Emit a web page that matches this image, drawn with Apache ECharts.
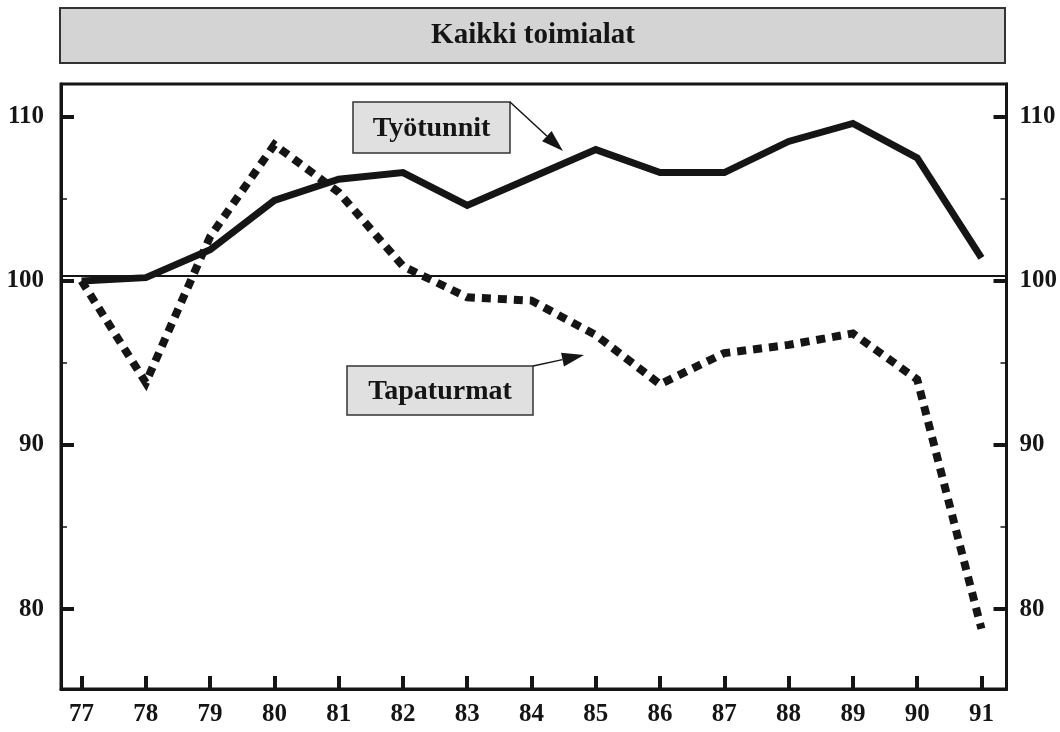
<!DOCTYPE html>
<html>
<head>
<meta charset="utf-8">
<script src="https://cdn.jsdelivr.net/npm/echarts@6/dist/echarts.min.js"></script>
<style>
html,body{margin:0;padding:0;background:#fff;}
#chart{width:1060px;height:732px;}
</style>
</head>
<body>
<div id="chart"></div>
<script>
// ---- data ----
var years = [77, 78, 79, 80, 81, 82, 83, 84, 85, 86, 87, 88, 89, 90, 91];
var tyotunnit = [100.0, 100.2, 101.9, 104.9, 106.2, 106.6, 104.6, 106.3, 108.0, 106.6, 106.6, 108.5, 109.6, 107.5, 101.4];
var tapaturmat = [100.0, 93.8, 102.7, 108.3, 105.4, 100.9, 99.0, 98.8, 96.7, 93.7, 95.6, 96.1, 96.8, 94.0, 78.8];
var yMajorTicks = [80, 90, 100, 110];
var yMinorTicks = [85, 95, 105];
var referenceLevel = 100.3;
var titleText = 'Kaikki toimialat';
var seriesNames = ['Työtunnit', 'Tapaturmat'];

// ---- styling ----
var INK = '#151515';
var FONT = '"Liberation Serif", "DejaVu Serif", serif';
var X_MIN = 76.68, X_MAX = 91.39, Y_MIN = 75.13, Y_MAX = 112.0;

function pairs(vals) {
  return years.map(function (y, i) { return [y, vals[i]]; });
}

function arrow(x1, y1, x2, y2, headLen, headHalf) {
  var dx = x2 - x1, dy = y2 - y1, L = Math.sqrt(dx * dx + dy * dy);
  var ux = dx / L, uy = dy / L, px = -uy, py = ux;
  var bx = x2 - ux * headLen, by = y2 - uy * headLen;
  return [
    { type: 'line', shape: { x1: x1, y1: y1, x2: bx, y2: by }, style: { stroke: INK, lineWidth: 1.5 }, z: 10 },
    { type: 'polygon', shape: { points: [[x2, y2], [bx + px * headHalf, by + py * headHalf], [bx - px * headHalf, by - py * headHalf]] }, style: { fill: INK }, z: 10 }
  ];
}

function labelBox(x, y, w, h, text) {
  return [
    { type: 'rect', shape: { x: x, y: y, width: w, height: h }, style: { fill: '#e0e0e0', stroke: '#333', lineWidth: 1.5 }, z: 10 },
    { type: 'text', x: x + w / 2, y: y + h / 2 + 1, style: { text: text, fill: INK, font: 'bold 28px ' + FONT, align: 'center', verticalAlign: 'middle' }, z: 11 }
  ];
}

var graphics = []
  .concat([
    { type: 'rect', shape: { x: 60, y: 8, width: 945, height: 55 }, style: { fill: '#d4d4d4', stroke: '#333', lineWidth: 2 }, z: 10 },
    { type: 'text', x: 533, y: 36, style: { text: titleText, fill: INK, font: 'bold 29px ' + FONT, align: 'center', verticalAlign: 'middle' }, z: 11 }
  ])
  .concat(labelBox(353, 102, 157, 51, seriesNames[0]))
  .concat(arrow(510, 102, 563, 151, 22, 7))
  .concat(labelBox(347, 366, 186, 49, seriesNames[1]))
  .concat(arrow(533, 366, 584, 355, 22, 7));

var yLabelStyle = { fontFamily: FONT, fontWeight: 'bold', fontSize: 25, color: INK };

var option = {
  animation: false,
  backgroundColor: '#fff',
  grid: { left: 61, right: 53, top: 84, bottom: 43, show: true, borderColor: INK, borderWidth: 3, backgroundColor: 'transparent' },
  xAxis: {
    type: 'value', min: X_MIN, max: X_MAX,
    axisLine: { show: true, lineStyle: { color: INK, width: 3 } },
    axisTick: { show: true, inside: true, length: 13, customValues: years, lineStyle: { color: INK, width: 4 } },
    axisLabel: { show: true, customValues: years, margin: 13, fontFamily: FONT, fontWeight: 'bold', fontSize: 25, color: INK,
      formatter: function (v) { return String(v); } },
    splitLine: { show: false }
  },
  yAxis: [
    { type: 'value', position: 'left', min: Y_MIN, max: Y_MAX,
      axisLine: { show: true, lineStyle: { color: INK, width: 3 } },
      axisTick: { show: true, inside: true, length: 13, customValues: yMajorTicks, lineStyle: { color: INK, width: 4 } },
      axisLabel: Object.assign({ show: true, customValues: yMajorTicks, margin: 17 }, yLabelStyle),
      splitLine: { show: false } },
    { type: 'value', position: 'right', min: Y_MIN, max: Y_MAX,
      axisLine: { show: true, lineStyle: { color: INK, width: 3 } },
      axisTick: { show: true, inside: true, length: 13, customValues: yMajorTicks, lineStyle: { color: INK, width: 4 } },
      axisLabel: Object.assign({ show: true, customValues: yMajorTicks, margin: 13 }, yLabelStyle),
      splitLine: { show: false } },
    { type: 'value', position: 'left', min: Y_MIN, max: Y_MAX,
      axisLine: { show: false },
      axisTick: { show: true, inside: true, length: 6, customValues: yMinorTicks, lineStyle: { color: INK, width: 1.5 } },
      axisLabel: { show: false },
      splitLine: { show: false } },
    { type: 'value', position: 'right', min: Y_MIN, max: Y_MAX,
      axisLine: { show: false },
      axisTick: { show: true, inside: true, length: 6, customValues: yMinorTicks, lineStyle: { color: INK, width: 1.5 } },
      axisLabel: { show: false },
      splitLine: { show: false } }
  ],
  series: [
    { name: seriesNames[0], type: 'line', yAxisIndex: 0, data: pairs(tyotunnit), symbol: 'none', silent: true,
      lineStyle: { color: INK, width: 7, type: 'solid', cap: 'butt', join: 'miter' },
      markLine: { silent: true, symbol: ['none', 'none'], label: { show: false },
        lineStyle: { color: INK, width: 2, type: 'solid' }, data: [{ yAxis: referenceLevel }] }, z: 2 },
    { name: seriesNames[1], type: 'line', yAxisIndex: 0, data: pairs(tapaturmat), symbol: 'none', silent: true,
      lineStyle: { color: INK, width: 8, type: [9, 7], cap: 'butt', join: 'miter' }, z: 3 }
  ],
  graphic: graphics
};

var chart = echarts.init(document.getElementById('chart'), null, { renderer: 'canvas' });
chart.setOption(option);
</script>
</body>
</html>
